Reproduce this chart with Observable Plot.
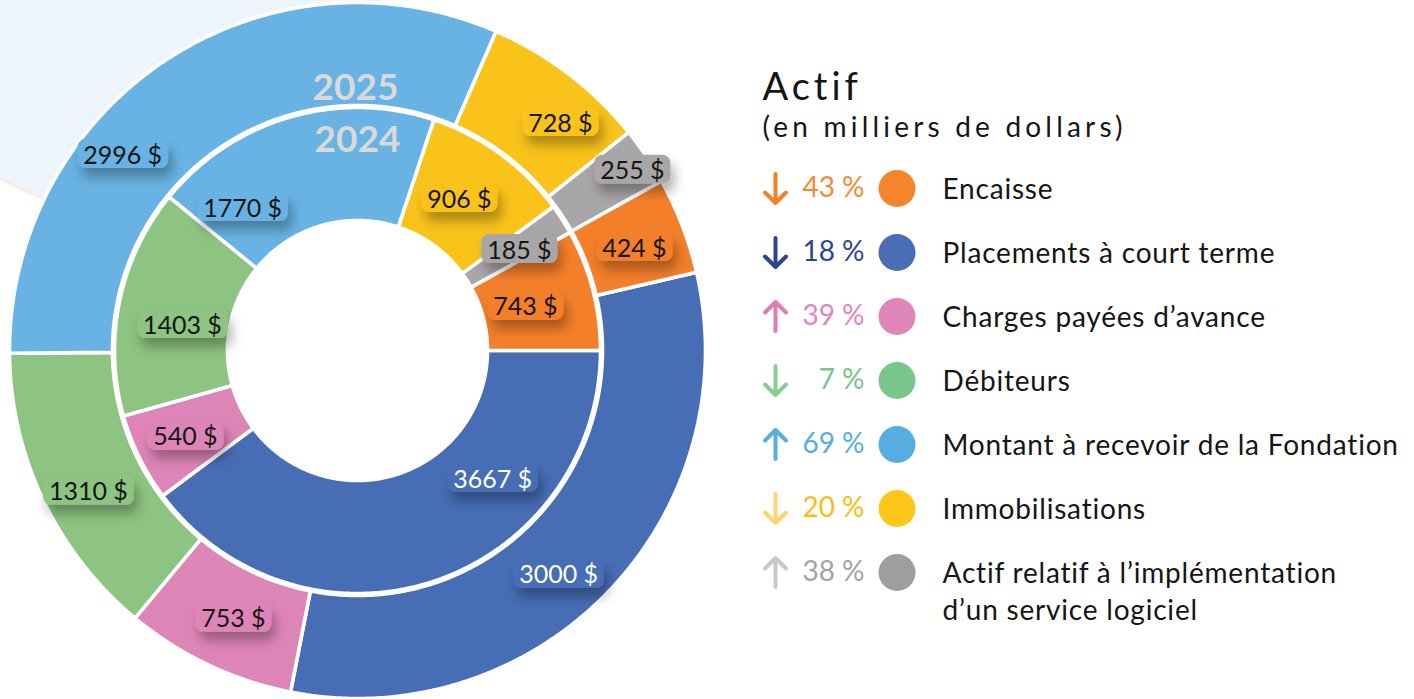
<!DOCTYPE html>
<html lang="fr">
<head>
<meta charset="utf-8">
<script src="https://cdn.jsdelivr.net/npm/d3@7"></script>
<script src="https://cdn.jsdelivr.net/npm/@observablehq/plot@0.6"></script>
<style>
  html, body { margin: 0; padding: 0; background: #ffffff; }
  #wrap { position: relative; width: 1414px; height: 699px; overflow: hidden; font-family: Lato, "Open Sans", sans-serif; }
  #chart { position: absolute; left: 0; top: 0; width: 720px; height: 699px; }
  #legend { position: absolute; left: 740px; top: 0; width: 674px; height: 699px; }
</style>
</head>
<body>
<div id="wrap"><div id="chart"></div><div id="legend"></div></div>
<script>
// ---------- data ----------
const categories = [
  "Encaisse",
  "Placements à court terme",
  "Charges payées d’avance",
  "Débiteurs",
  "Montant à recevoir de la Fondation",
  "Immobilisations",
  "Actif relatif à l’implémentation d’un service logiciel"
];
const legendLabels = [
  "Encaisse",
  "Placements à court terme",
  "Charges payées d’avance",
  "Débiteurs",
  "Montant à recevoir de la Fondation",
  "Immobilisations",
  "Actif relatif à l’implémentation\nd’un service logiciel"
];
const years = ["2025", "2024"];
const values2025 = [424, 3000, 753, 1310, 2996, 728, 255];
const values2024 = [743, 3667, 540, 1403, 1770, 906, 185];
const changePct = [43, 18, 39, 7, 69, 20, 38];
const changeDir = ["down", "down", "up", "down", "up", "down", "up"];

// ---------- styles ----------
const ringColors  = ["#F47F2A", "#476DB5", "#DE85B7", "#8DC482", "#68B3E3", "#F9C31A", "#A8A6A7"];
const dotColors   = ["#F5842A", "#4A6DB5", "#E085BA", "#79C68D", "#56AEE0", "#FFC61A", "#9E9E9E"];
const pctColors   = ["#F58A2E", "#2B4594", "#E385BC", "#78C48C", "#55AEE2", "#FBBD14", "#A3A3A3"];
const arrowColors = ["#F58025", "#2B4594", "#E07BB5", "#8CCB8E", "#58AEE2", "#FFD46E", "#C8C8C8"];
const inkColors   = ["#151515", "#FFFFFF", "#151515", "#151515", "#151515", "#151515", "#151515"];

// ---------- layout (unit = outer radius) ----------
const PX = 346;                       // pixels per unit radius
const clockwiseOrder = [1, 2, 3, 4, 5, 6, 0];
const ringLayout = {
  "2025": {start: 77, r0: 245 / PX, r1: 348 / PX},
  "2024": {start: 90, r0: 130 / PX, r1: 243 / PX}
};
// label placement: [angle (deg, clockwise from north), radius]
const labelLayout = {
  "2025": [[69.8, 0.853], [138.2, 0.872], [204.8, 0.856], [242.2, 0.879], [-50.3, 0.882], [41.8, 0.880], [56.9, 0.948]],
  "2024": [[75.6, 0.501], [133.7, 0.540], [243.2, 0.557], [278.1, 0.511], [-39.0, 0.528], [34.0, 0.526], [58.3, 0.550]]
};
const yearLayout = [[-0.006, 0.757], [0.0, 0.607]];
const bgBlob = {x: -0.659, y: 1.133, r: 255};

const seriesByYear = {"2025": values2025, "2024": values2024};
const fmt = v => `${v}\u202F$`;

// ---------- build slice polygons ----------
const slicePts = [];
for (const year of years) {
  const vals = seriesByYear[year];
  const L = ringLayout[year];
  const total = d3.sum(vals);
  let a = L.start;
  for (const i of clockwiseOrder) {
    const span = vals[i] / total * 360;
    const a0 = a, a1 = a + span;
    a = a1;
    const n = Math.max(2, Math.ceil(span / 0.5));
    const id = year + "-" + i;
    for (let k = 0; k <= n; k++) {
      const t = (a0 + (a1 - a0) * k / n) * Math.PI / 180;
      slicePts.push({id, x: L.r1 * Math.sin(t), y: L.r1 * Math.cos(t), color: ringColors[i]});
    }
    for (let k = n; k >= 0; k--) {
      const t = (a0 + (a1 - a0) * k / n) * Math.PI / 180;
      slicePts.push({id, x: L.r0 * Math.sin(t), y: L.r0 * Math.cos(t), color: ringColors[i]});
    }
  }
}

const labels = [];
for (const year of years) {
  categories.forEach((c, i) => {
    const [ang, r] = labelLayout[year][i];
    const t = ang * Math.PI / 180;
    labels.push({x: r * Math.sin(t), y: r * Math.cos(t), text: fmt(seriesByYear[year][i]), color: ringColors[i], ink: inkColors[i]});
  });
}
const yearLabels = years.map((y, k) => ({x: yearLayout[k][0], y: yearLayout[k][1], text: y}));

// ---------- donut chart ----------
const chart = Plot.plot({
  width: 720, height: 699, margin: 0,
  x: {domain: [-357 / PX, 363 / PX], axis: null},
  y: {domain: [-349 / PX, 350 / PX], axis: null},
  color: {type: "identity"},
  style: {fontFamily: "Lato, 'Open Sans', sans-serif", background: "transparent", overflow: "visible"},
  marks: [
    Plot.dot([bgBlob], {x: "x", y: "y", r: bgBlob.r, fill: "#EEF4FB", stroke: "#FCE9DC", strokeWidth: 2}),
    Plot.line(slicePts, {x: "x", y: "y", z: "id", fill: "color", stroke: "#ffffff", strokeWidth: 3.6, strokeLinejoin: "miter", curve: "linear-closed"}),
    Plot.text(yearLabels, {x: "x", y: "y", text: "text", fill: "#D9D9D9", fontSize: 37, fontWeight: 700}),
    Plot.text(labels, {x: "x", y: "y", text: "text", fill: "ink", fontSize: 25})
  ]
});
document.getElementById("chart").append(chart);

// badges behind the value labels
d3.select(chart).insert("defs", ":first-child").html(
  '<filter id="bshadow" x="-40%" y="-40%" width="180%" height="240%">' +
  '<feDropShadow dx="4" dy="9" stdDeviation="6" flood-color="#000" flood-opacity="0.3"/></filter>');
const valueTexts = Array.from(chart.querySelectorAll("text")).filter(t => t.textContent.trim().endsWith("$"));
valueTexts.forEach((t, k) => {
  const b = t.getBBox();
  const rect = document.createElementNS("http://www.w3.org/2000/svg", "rect");
  rect.setAttribute("x", b.x - 6);
  rect.setAttribute("y", b.y + 0.5);
  rect.setAttribute("width", b.width + 12);
  rect.setAttribute("height", b.height - 1);
  rect.setAttribute("rx", 8);
  rect.setAttribute("fill", labels[k].color);
  rect.setAttribute("filter", "url(#bshadow)");
  if (t.getAttribute("transform")) rect.setAttribute("transform", t.getAttribute("transform"));
  t.parentNode.insertBefore(rect, t);
});

// ---------- legend ----------
const rows = categories.map((c, i) => ({i, name: legendLabels[i], pct: changePct[i], dir: changeDir[i]}));
const arrowShape = {
  draw(context, l) {
    const w = 10.5;
    context.moveTo(0, 0);
    context.lineTo(0, -l);
    context.moveTo(-w, -l + w);
    context.lineTo(0, -l);
    context.lineTo(w, -l + w);
  }
};
const legend = Plot.plot({
  width: 674, height: 699, margin: 0,
  x: {domain: [740, 1414], range: [0, 674], axis: null},
  y: {domain: [0, 6], range: [188, 572], axis: null},
  color: {type: "identity"},
  style: {fontFamily: "Lato, 'Open Sans', sans-serif", background: "transparent", overflow: "visible"},
  marks: [
    Plot.text(["Actif"], {x: 762, y: -1.38, text: d => d, textAnchor: "start", lineAnchor: "bottom", fontSize: 38, fill: "#151515"}),
    Plot.text(["(en milliers de dollars)"], {x: 762, y: -0.80, text: d => d, textAnchor: "start", lineAnchor: "bottom", fontSize: 28, fill: "#151515"}),
    Plot.vector(rows, {x: 775, y: "i", rotate: d => d.dir === "up" ? 0 : 180, length: 29, anchor: "middle", shape: arrowShape, stroke: d => arrowColors[d.i], strokeWidth: 4}),
    Plot.text(rows, {x: 864, y: "i", text: d => `${d.pct}\u202F%`, textAnchor: "end", fontSize: 28, fill: d => pctColors[d.i]}),
    Plot.dot(rows, {x: 896.5, y: "i", r: 18.5, fill: d => dotColors[d.i]}),
    Plot.text(rows, {x: 942, y: "i", text: "name", textAnchor: "start", lineAnchor: "top", lineHeight: 1.32, dy: -16, fontSize: 28, fill: "#151515"})
  ]
});
document.getElementById("legend").append(legend);
// letter spacing on the legend texts
Array.from(legend.querySelectorAll("text")).forEach(t => {
  const s = t.textContent;
  if (s === "Actif") t.style.letterSpacing = "4px";
  else if (s.startsWith("(en")) t.style.letterSpacing = "4.2px";
  else if (!s.includes("%")) t.style.letterSpacing = "0.8px";
});
</script>
</body>
</html>
